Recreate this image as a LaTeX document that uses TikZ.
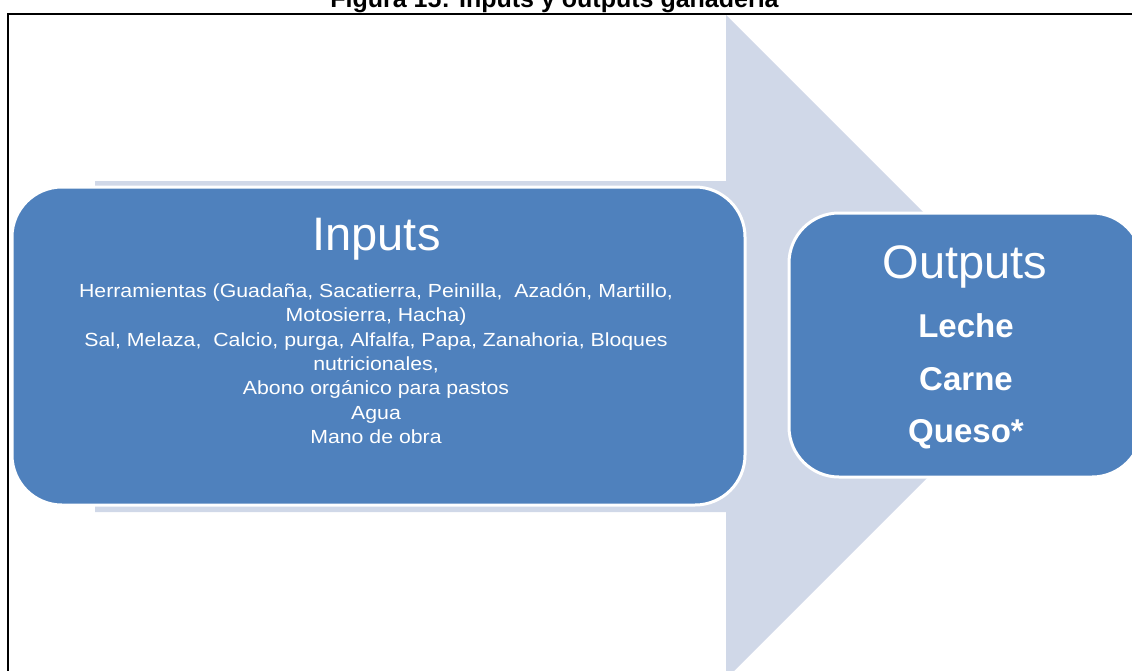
\documentclass[tikz,border=0pt]{standalone}
\usepackage{fontspec}
\setmainfont{Liberation Sans}
\definecolor{boxblue}{HTML}{4F81BD}
\definecolor{arrowgrey}{HTML}{D0D8E8}
\begin{document}
\begin{tikzpicture}[x=1pt,y=-1pt,
  panel/.style={fill=boxblue, draw=white, line width=3pt, rounded corners=50pt,
                inner sep=0pt, outer sep=0pt},
  heading/.style={text=white, font=\fontsize{47}{52}\selectfont, inner sep=0pt, anchor=base},
  bodyline/.style={text=white, font=\fontsize{19}{23}\selectfont, inner sep=0pt, anchor=base},
  product/.style={text=white, font=\bfseries\fontsize{33}{38}\selectfont, inner sep=0pt, anchor=base}]
\useasboundingbox (0,0) rectangle (1132,670);
\clip (0,0) rectangle (1132,670);

% caption above the frame
\node[font=\bfseries\fontsize{25}{28}\selectfont, inner sep=0pt, anchor=base] (title)
  at (554.5,7) {Figura 15: Inputs y outputs ganadería};

% frame around the figure
\draw[line width=2pt] (8,690) -- (8,14) -- (1145,14);

% large background arrow
\fill[arrowgrey] (95,181) -- (726,181) -- (726,15) -- (1058,347)
  -- (726,679) -- (726,512) -- (95,512) -- cycle;

% input and output panels
\node[panel, minimum width=733pt, minimum height=318pt] (inbox) at (378.5,346) {};
\node[panel, minimum width=353pt, minimum height=264pt] (outbox) at (965.5,345) {};

% input texts
\node[heading] (inhead) at (376.5,250) {Inputs};
\foreach \t/\yy [count=\i] in {
  {Herramientas (Guadaña, Sacatierra, Peinilla,~ Azadón, Martillo,}/297.5,
  {Motosierra, Hacha)}/321.8,
  {Sal, Melaza,~ Calcio, purga, Alfalfa, Papa, Zanahoria, Bloques}/346,
  {nutricionales,}/370.4,
  {Abono orgánico para pastos}/394.7,
  {Agua}/419,
  {Mano de obra}/443.3}
  \node[bodyline] (inline\i) at (376,\yy) {\scalebox{1.12}[1]{\t}};

% output texts
\node[heading] (outhead) at (965,278.5) {Outputs};
\node[product] (leche) at (966,337.5) {Leche};
\node[product] (carne) at (966,390) {Carne};
\node[product] (queso) at (966,442) {Queso*};
\end{tikzpicture}
\end{document}
